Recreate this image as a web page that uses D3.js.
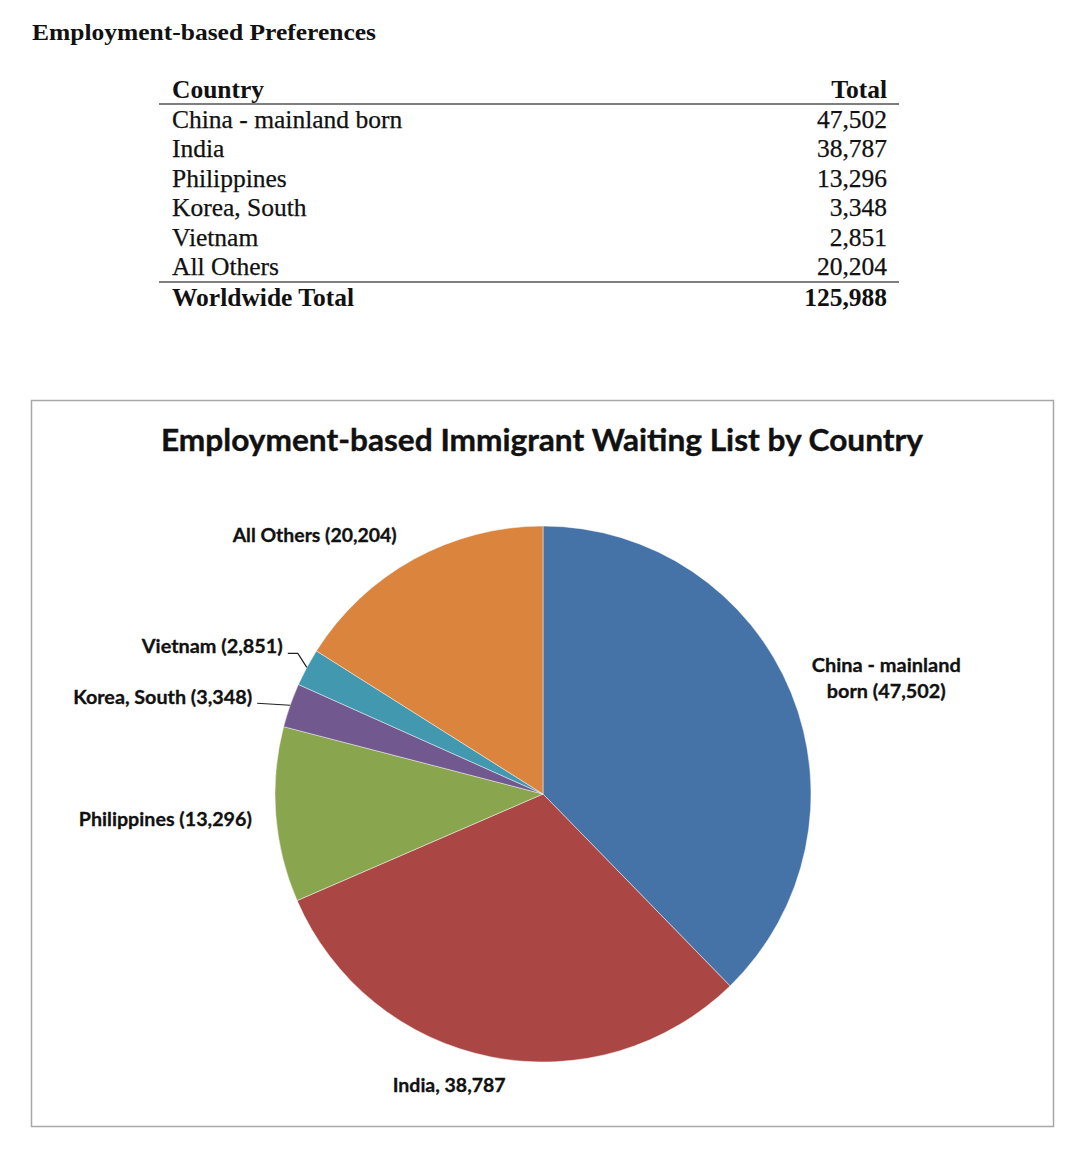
<!DOCTYPE html>
<html>
<head>
<meta charset="utf-8">
<script src="https://cdn.jsdelivr.net/npm/d3@7/dist/d3.min.js"></script>
<style>
  html, body { margin: 0; padding: 0; background: #ffffff; }
  svg { display: block; }
</style>
</head>
<body>
<svg id="chart" width="1080" height="1150"></svg>
<script>
// ---------------- data ----------------
const countries = ["China - mainland born", "India", "Philippines", "Korea, South", "Vietnam", "All Others"];
const totals = [47502, 38787, 13296, 3348, 2851, 20204];
const worldwideLabel = "Worldwide Total";
const worldwideTotal = 125988;
const tableTitle = "Employment-based Preferences";
const chartTitle = "Employment-based Immigrant Waiting List by Country";
const pieLabels = ["China - mainland|born (47,502)", "India, 38,787", "Philippines (13,296)", "Korea, South (3,348)", "Vietnam (2,851)", "All Others (20,204)"];
const sliceColors = ["#4572A7", "#AA4643", "#89A54E", "#71588F", "#4198AF", "#DB843D"];

// ---------------- setup ----------------
const svg = d3.select("#chart");
const fmt = d3.format(",");
const serif = "'Liberation Serif', 'Times New Roman', serif";
const sans = "Lato, 'Open Sans', 'DejaVu Sans', sans-serif";

function fitText(sel, target) {
  sel.each(function () {
    const w = this.getComputedTextLength();
    if (Math.abs(w - target) > 1) {
      d3.select(this).attr("textLength", target).attr("lengthAdjust", "spacingAndGlyphs");
    }
  });
}

// ---------------- table ----------------
svg.append("text")
  .attr("x", 32).attr("y", 40)
  .attr("font-family", serif).attr("font-weight", "bold").attr("font-size", 24)
  .attr("fill", "#111")
  .text(tableTitle)
  .call(fitText, 344);

const tbl = { left: 159, right: 899, textX: 172, numX: 887, fs: 25.5 };
const rowY = d3.scalePoint().domain(d3.range(countries.length)).range([128, 275]);

svg.append("text")
  .attr("x", tbl.textX).attr("y", 98)
  .attr("font-family", serif).attr("font-weight", "bold").attr("font-size", tbl.fs).attr("fill", "#111")
  .text("Country");
svg.append("text")
  .attr("x", tbl.numX).attr("y", 98).attr("text-anchor", "end")
  .attr("font-family", serif).attr("font-weight", "bold").attr("font-size", tbl.fs).attr("fill", "#111")
  .text("Total");

svg.append("line").attr("x1", tbl.left).attr("x2", tbl.right).attr("y1", 104).attr("y2", 104)
  .attr("stroke", "#555").attr("stroke-width", 1.5);

const rows = svg.append("g").selectAll("g").data(countries).join("g");
rows.append("text")
  .attr("x", tbl.textX).attr("y", (d, i) => rowY(i))
  .attr("font-family", serif).attr("font-size", tbl.fs).attr("fill", "#111")
  .attr("stroke", "#111").attr("stroke-width", 0.25)
  .text(d => d);
rows.append("text")
  .attr("x", tbl.numX).attr("y", (d, i) => rowY(i)).attr("text-anchor", "end")
  .attr("font-family", serif).attr("font-size", tbl.fs).attr("fill", "#111")
  .attr("stroke", "#111").attr("stroke-width", 0.25)
  .text((d, i) => fmt(totals[i]));

svg.append("line").attr("x1", tbl.left).attr("x2", tbl.right).attr("y1", 282).attr("y2", 282)
  .attr("stroke", "#555").attr("stroke-width", 1.5);

svg.append("text")
  .attr("x", tbl.textX).attr("y", 306)
  .attr("font-family", serif).attr("font-weight", "bold").attr("font-size", tbl.fs).attr("fill", "#111")
  .text(worldwideLabel);
svg.append("text")
  .attr("x", tbl.numX).attr("y", 306).attr("text-anchor", "end")
  .attr("font-family", serif).attr("font-weight", "bold").attr("font-size", tbl.fs).attr("fill", "#111")
  .text(fmt(worldwideTotal));

// ---------------- chart box ----------------
svg.append("rect")
  .attr("x", 31.5).attr("y", 400.5).attr("width", 1022).attr("height", 726)
  .attr("fill", "#fff").attr("stroke", "#a8a8a8").attr("stroke-width", 1.5);

svg.append("text")
  .attr("x", 542).attr("y", 451).attr("text-anchor", "middle")
  .attr("font-family", sans).attr("font-weight", "bold").attr("font-size", 31).attr("fill", "#111")
  .attr("stroke", "#111").attr("stroke-width", 0.4)
  .text(chartTitle)
  .call(fitText, 762);

// ---------------- pie ----------------
const cx = 543, cy = 794, R = 268;
const pieData = countries.map((c, i) => ({ name: c, value: totals[i], color: sliceColors[i], label: pieLabels[i] }));
const pie = d3.pie().value(d => d.value).sort(null).startAngle(0).endAngle(2 * Math.PI);
const arcs = pie(pieData);
const arc = d3.arc().innerRadius(0).outerRadius(R);

const g = svg.append("g").attr("transform", `translate(${cx},${cy})`);
g.selectAll("path").data(arcs).join("path")
  .attr("d", arc)
  .attr("fill", d => d.data.color)
  .attr("stroke", "#ffffff").attr("stroke-opacity", 0.45).attr("stroke-width", 1);

// label layout (relative to slice mid-point on the rim)
const labelLayout = {
  "China - mainland born": { dx: 95, dy: -21, anchor: "middle", widths: [149, 119], lh: 26 },
  "India": { dx: -42, dy: 35, anchor: "middle", widths: [113] },
  "Philippines": { dx: -24, dy: 11, anchor: "end", widths: [173] },
  "Korea, South": { dx: -38, dy: -1, anchor: "end", widths: [179] },
  "Vietnam": { dx: -24, dy: -14, anchor: "end", widths: [141] },
  "All Others": { dx: -99, dy: -17, anchor: "middle", widths: [164] }
};
const leaders = {
  "Korea, South": [[0, 0], [-33, -2]],
  "Vietnam": [[0, 0], [-9, -14], [-19, -14]]
};

arcs.forEach(a => {
  const mid = (a.startAngle + a.endAngle) / 2;
  const px = R * Math.sin(mid), py = -R * Math.cos(mid);
  const L = labelLayout[a.data.name];
  const lines = a.data.label.split("|");
  const t = g.append("text")
    .attr("text-anchor", L.anchor)
    .attr("font-family", sans).attr("font-weight", "bold").attr("font-size", 19).attr("fill", "#111")
    .attr("stroke", "#111").attr("stroke-width", 0.3);
  lines.forEach((ln, k) => {
    t.append("tspan")
      .attr("x", px + L.dx).attr("y", py + L.dy + k * (L.lh || 0))
      .text(ln)
      .call(fitText, L.widths[k]);
  });
  if (leaders[a.data.name]) {
    g.append("path")
      .attr("d", d3.line()(leaders[a.data.name].map(p => [px + p[0], py + p[1]])))
      .attr("fill", "none").attr("stroke", "#222").attr("stroke-width", 1.2);
  }
});
</script>
</body>
</html>
